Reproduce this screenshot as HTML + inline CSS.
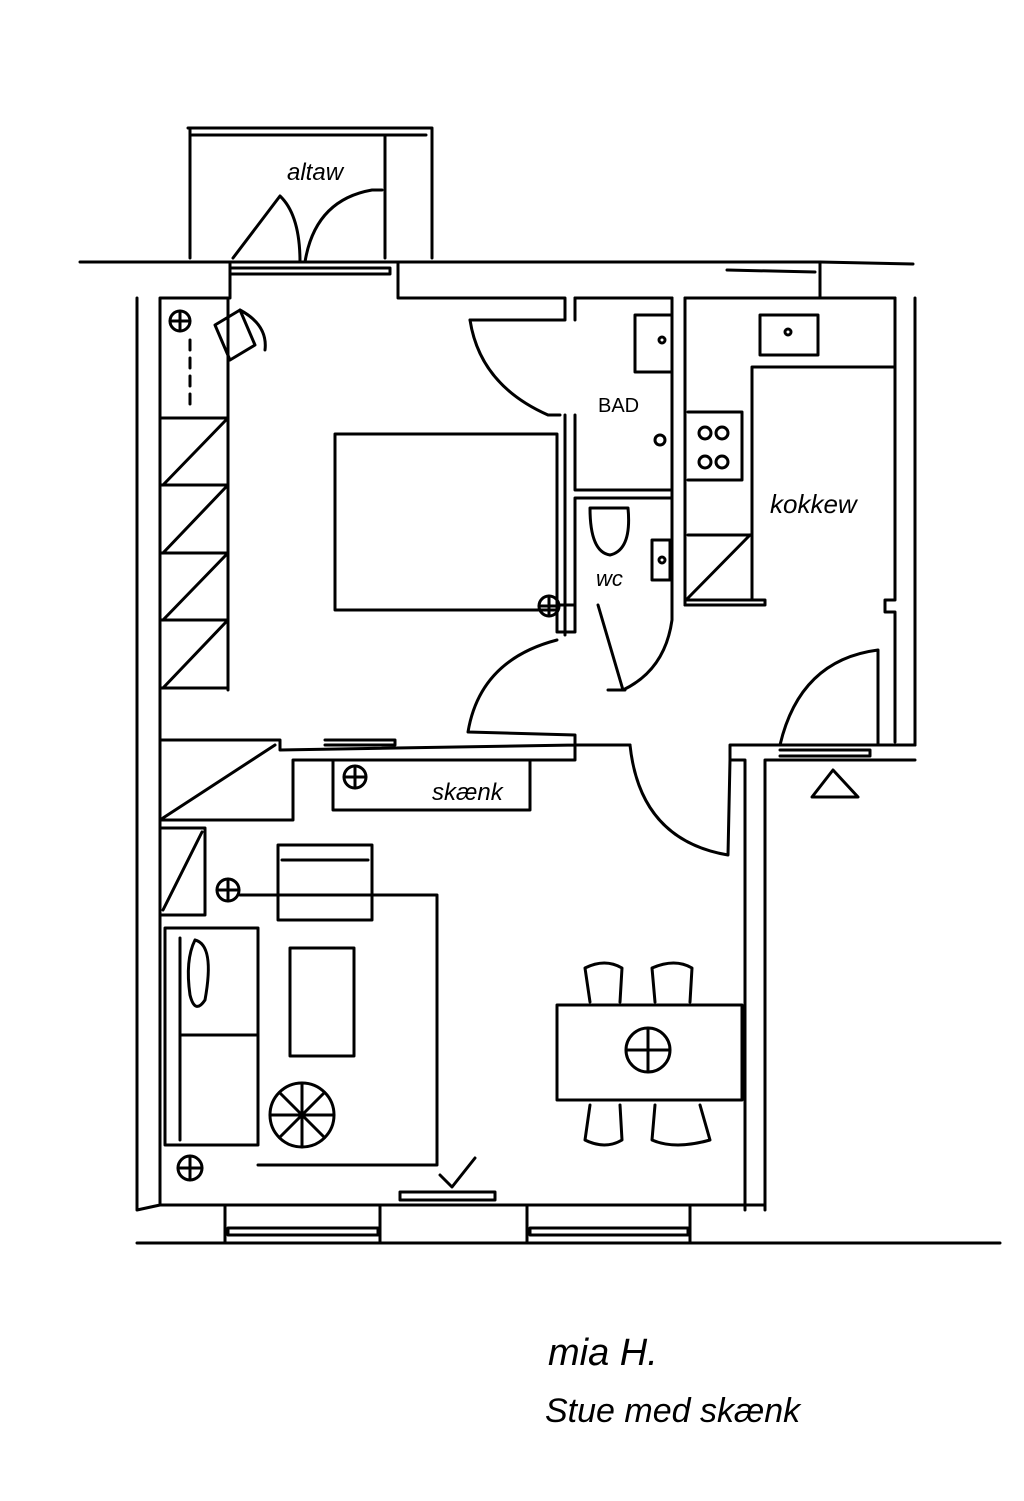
<!DOCTYPE html>
<html><head><meta charset="utf-8"><style>
html,body{margin:0;padding:0;background:#fff;}
svg{display:block}
text{font-family:"Liberation Sans",sans-serif;fill:#000}
</style></head><body>
<svg width="1024" height="1501" viewBox="0 0 1024 1501" xmlns="http://www.w3.org/2000/svg">
<g fill="none" stroke="#000" stroke-width="3" stroke-linecap="round" stroke-linejoin="round">
<!-- balcony -->
<path d="M188,128 L432,128 M192,135 L426,135 M190,128 L190,258 M432,128 L432,258 M385,135 L385,258"/>
<path d="M233,258 L280,196 Q300,215 300,262"/>
<path d="M305,262 Q315,200 372,190 L382,190"/>
<!-- top wall -->
<path d="M80,262 L820,262 L913,264"/>
<path d="M230,264 L230,298 M230,268 L390,268 L390,274 L230,274 Z"/>
<path d="M398,262 L398,298 L565,298 L565,320 L470,320 M565,298 L565,320 M575,298 L575,320"/>
<path d="M575,298 L672,298 M685,298 L895,298 M820,262 L820,298"/>
<path d="M727,270 L815,272"/>
<!-- left walls -->
<path d="M137,298 L137,1210 M160,298 L160,1205 M160,298 L228,298 L228,690 M137,1210 L160,1205"/>
<!-- closet -->
<path d="M160,418 L228,418 M160,485 L228,485 M160,553 L228,553 M160,620 L228,620 M160,688 L228,688"/>
<path d="M163,485 L226,420 M163,553 L226,487 M163,620 L226,555 M163,688 L226,622"/>
<path d="M190,340 L190,412" stroke-dasharray="10,8"/>
<circle cx="180" cy="321" r="10"/><path d="M170,321 L190,321 M180,311 L180,331"/>
<path d="M215,325 L240,310 L255,345 L230,360 Z M240,310 Q268,325 265,350"/>
<!-- bed -->
<rect x="335" y="434" width="222" height="176"/>
<circle cx="549" cy="606" r="10"/><path d="M539,606 L559,606 M549,596 L549,616"/>
<!-- bad -->
<path d="M470,320 Q480,385 548,415 L560,415 M565,415 L565,635 M575,415 L575,490 L672,490 M575,498 L672,498 M575,498 L575,605 M672,298 L672,605 M685,298 L685,605"/>
<path d="M635,315 L672,315 L672,372 L635,372 Z"/>
<circle cx="662" cy="340" r="3"/><circle cx="660" cy="440" r="5"/>
<path d="M590,508 L628,508 Q632,550 610,555 Q590,552 590,508"/>
<path d="M652,540 L670,540 L670,580 L652,580 Z"/><circle cx="662" cy="560" r="3"/>
<path d="M557,605 L575,605 L575,632 L557,632 L557,605 M598,605 L623,690 M608,690 L625,690 M672,605 L672,620 Q665,670 623,690"/>
<!-- kitchen -->
<path d="M685,605 L765,605 L765,600 L685,600 M688,535 L750,535 M752,367 L895,367 M752,367 L752,600 M688,412 L742,412 L742,480 L688,480 M688,535 L750,535 M688,598 L750,535"/>
<path d="M760,315 L818,315 L818,355 L760,355 Z"/><circle cx="788" cy="332" r="3"/>
<circle cx="705" cy="433" r="6"/><circle cx="722" cy="433" r="6"/><circle cx="705" cy="462" r="6"/><circle cx="722" cy="462" r="6"/>
<path d="M895,298 L895,600 L885,600 L885,612 L895,612 L895,742 M915,298 L915,745"/>
<path d="M878,650 Q800,660 780,745 M878,650 L878,745"/>
<!-- hallway wall -->
<path d="M730,745 L915,745 M765,760 L915,760 M730,745 L730,760 L745,760 L745,1210 M765,760 L765,1210 M780,750 L870,750 L870,756 L780,756"/>
<path d="M812,797 L833,770 L858,797 Z"/>
<!-- middle wall -->
<path d="M160,740 L280,740 L280,750 L575,745 L630,745 M160,820 L293,820 L293,760 L575,760 L575,735 L468,732 Q480,660 557,640"/>
<path d="M325,740 L395,740 L395,745 L325,745"/>
<path d="M163,818 L275,745"/>
<path d="M630,745 Q640,840 728,855 L730,760"/>
<path d="M333,760 L333,810 L530,810 L530,760"/>
<circle cx="355" cy="777" r="11"/><path d="M344,777 L366,777 M355,766 L355,788"/>
<!-- living -->
<path d="M160,828 L205,828 L205,915 L160,915 M163,910 L202,832"/>
<circle cx="228" cy="890" r="11"/><path d="M217,890 L239,890 M228,879 L228,901"/>
<path d="M278,845 L372,845 L372,920 L278,920 Z M282,860 L368,860"/>
<path d="M240,895 L437,895 L437,1165 L258,1165"/>
<path d="M165,928 L258,928 L258,1145 L165,1145 Z M180,938 L180,1140 M180,1035 L258,1035"/>
<path d="M195,940 Q215,945 205,1000 Q195,1015 190,995 Q185,960 195,940"/>
<rect x="290" y="948" width="64" height="108"/>
<circle cx="302" cy="1115" r="32"/><path d="M270,1115 L334,1115 M302,1083 L302,1147 M280,1093 L324,1137 M324,1093 L280,1137"/>
<circle cx="190" cy="1168" r="12"/><path d="M178,1168 L202,1168 M190,1156 L190,1180"/>
<!-- dining -->
<rect x="557" y="1005" width="185" height="95"/>
<circle cx="648" cy="1050" r="22"/><path d="M626,1050 L670,1050 M648,1028 L648,1072"/>
<path d="M590,1002 L585,968 Q605,958 622,968 L620,1002 M655,1002 L652,968 Q675,958 692,968 L690,1002"/>
<path d="M590,1105 L585,1140 Q605,1150 622,1140 L620,1105 M655,1105 L652,1140 Q675,1150 710,1140 L700,1105"/>
<!-- bottom -->
<path d="M160,1205 L765,1205 M137,1243 L1000,1243 M225,1205 L225,1243 M380,1205 L380,1243 M527,1205 L527,1243 M690,1205 L690,1243"/>
<path d="M228,1228 L378,1228 L378,1235 L228,1235 Z M530,1228 L688,1228 L688,1235 L530,1235 Z M400,1192 L495,1192 L495,1200 L400,1200 Z M440,1175 L452,1187 L475,1158"/>
</g>
<g font-size="24" font-style="italic">
<text x="287" y="180">altaw</text>
<text x="598" y="412" font-size="20" font-style="normal">BAD</text>
<text x="596" y="586" font-size="22">wc</text>
<text x="770" y="513" font-size="26">kokkew</text>
<text x="432" y="800" font-size="24">skænk</text>
<text x="548" y="1365" font-size="38">mia H.</text>
<text x="545" y="1422" font-size="34">Stue med skænk</text>
</g>
</svg>
</body></html>
